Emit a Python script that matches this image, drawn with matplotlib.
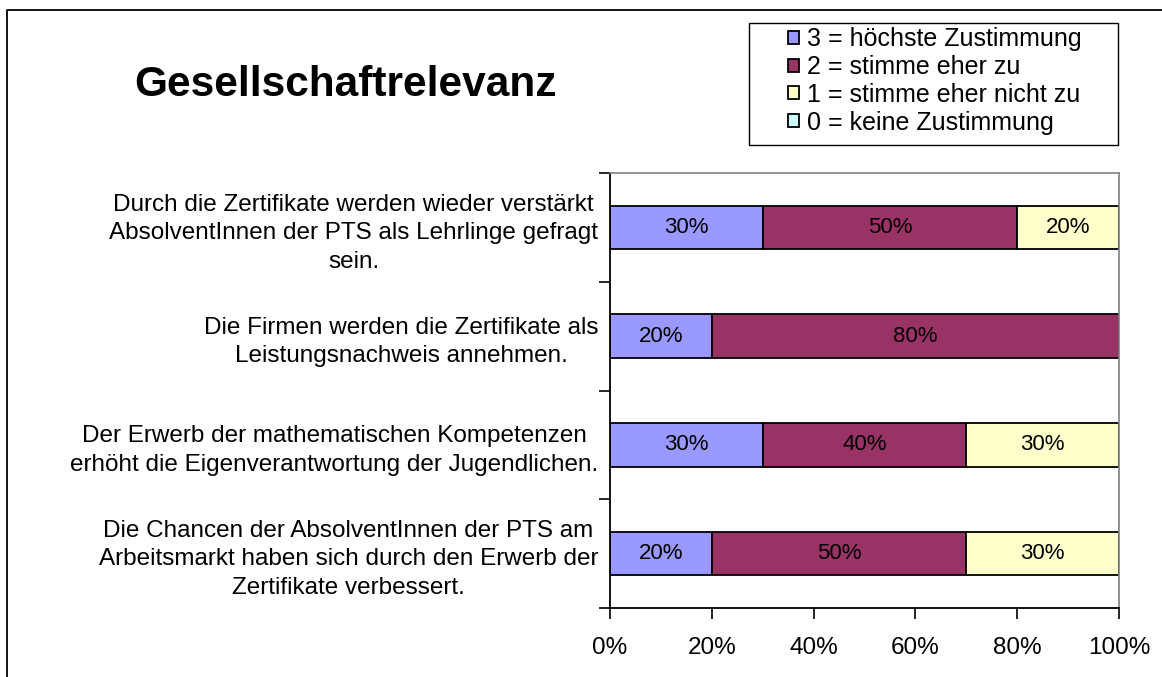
import matplotlib
matplotlib.use("Agg")
import matplotlib.pyplot as plt
from matplotlib.lines import Line2D
from matplotlib.patches import Rectangle
from matplotlib.ticker import FixedLocator, FuncFormatter
import numpy as np

plt.rcParams['font.family'] = ['Liberation Sans', 'DejaVu Sans']

title = "Gesellschaftrelevanz"
categories = [
    "Durch die Zertifikate werden wieder verstärkt\nAbsolventInnen der PTS als Lehrlinge gefragt\nsein.",
    "Die Firmen werden die Zertifikate als\nLeistungsnachweis annehmen.",
    "Der Erwerb der mathematischen Kompetenzen\nerhöht die Eigenverantwortung der Jugendlichen.",
    "Die Chancen der AbsolventInnen der PTS am\nArbeitsmarkt haben sich durch den Erwerb der\nZertifikate verbessert.",
]
series_names = ["3 = höchste Zustimmung", "2 = stimme eher zu",
                "1 = stimme eher nicht zu", "0 = keine Zustimmung"]
s3 = [30, 20, 30, 20]
s2 = [50, 80, 40, 50]
s1 = [20, 0, 30, 30]
s0 = [0, 0, 0, 0]
series_values = [s3, s2, s1, s0]
colors = ["#9999FF", "#993366", "#FFFFCC", "#CCFFFF"]
xticks = [0, 20, 40, 60, 80, 100]

W, H = 1162, 677
fig = plt.figure(figsize=(W / 100, H / 100), dpi=100)
ax = fig.add_axes([610 / W, 1 - 608 / H, (1119 - 610) / W, (608 - 173) / H])

y = np.arange(len(categories))
left = np.zeros(len(categories))
handles = []
for name, vals, c in zip(series_names, series_values, colors):
    vals = np.array(vals, dtype=float)
    bars = ax.barh(y, vals, left=left, height=0.4, color=c, edgecolor='black',
                   linewidth=1.3, label=name)
    for yi, l, v in zip(y, left, vals):
        if v > 0:
            ax.text(l + v / 2, yi, f"{int(v)}%", ha='center', va='center',
                    fontsize=16, color='black')
    left += vals
    handles.append(bars)

ax.set_xlim(0, 100)
ax.set_ylim(len(categories) - 0.5, -0.5)

ax.set_yticks(y)
ax.set_yticklabels(categories, fontsize=17.5, multialignment='center',
                   linespacing=1.38)
ax.tick_params(axis='y', which='major', length=0, pad=8.5)
ax.yaxis.set_minor_locator(FixedLocator(np.arange(len(categories) + 1) - 0.5))
ax.tick_params(axis='y', which='minor', length=8, width=1.2, color='black')

ax.set_xticks(xticks)
ax.xaxis.set_major_formatter(FuncFormatter(lambda v, p: f"{int(v)}%"))
ax.tick_params(axis='x', length=8, width=1.2, pad=13, labelsize=17.5)

for s in ['left', 'bottom']:
    ax.spines[s].set_color('black')
    ax.spines[s].set_linewidth(1.3)
for s in ['top', 'right']:
    ax.spines[s].set_color('#808080')
    ax.spines[s].set_linewidth(1.2)

fig.text(345 / W, 1 - 85 / H, title, ha='center', va='center',
         fontsize=30.5, fontweight='bold')

# legend box drawn separately (asymmetric padding)
fig.add_artist(Rectangle((749 / W, 1 - 145 / H), (1118 - 749) / W, (145 - 23) / H,
                         transform=fig.transFigure, facecolor='white',
                         edgecolor='black', linewidth=1.0))
leg = fig.legend(handles=handles, labels=series_names, loc='center left',
                 bbox_to_anchor=(788 / W, 1 - 81 / H), fontsize=18,
                 frameon=False,
                 handlelength=0.42, handleheight=0.42, handletextpad=0.35,
                 labelspacing=0.15, borderpad=0.0, borderaxespad=0)
for h in leg.legend_handles:
    h.set_linewidth(1.3)

fig.add_artist(Line2D([7 / W, 7 / W, 1.0], [0.0, 1 - 10 / H, 1 - 10 / H],
                      transform=fig.transFigure, color='black', linewidth=1.3))

fig.savefig("out.png", dpi=100)
